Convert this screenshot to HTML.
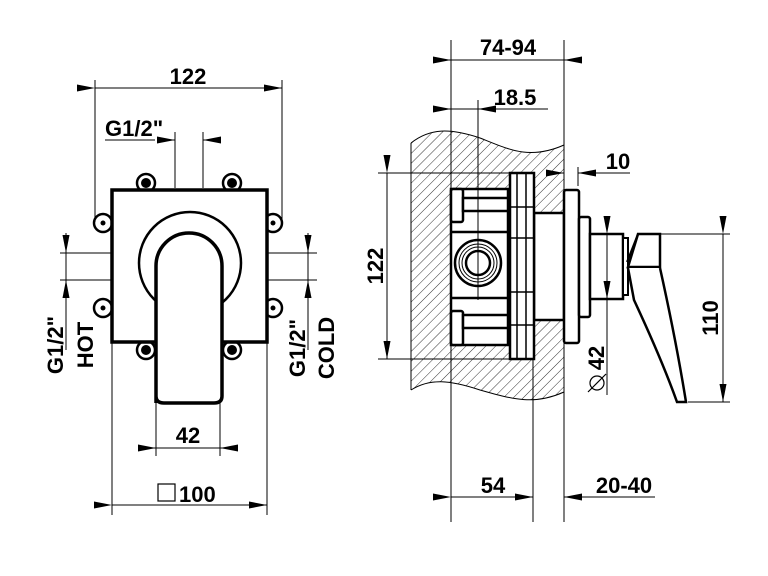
<!DOCTYPE html>
<html><head><meta charset="utf-8"><style>
html,body{margin:0;padding:0;background:#fff}
svg{display:block}
text{font-family:"Liberation Sans",Arial,sans-serif;font-weight:bold;font-size:22px;fill:#000}
</style></head><body>
<svg width="768" height="576" viewBox="0 0 768 576" xmlns="http://www.w3.org/2000/svg">
<defs>
<pattern id="h" patternUnits="userSpaceOnUse" width="7" height="7" patternTransform="rotate(45)">
<line x1="0" y1="0" x2="0" y2="7" stroke="#000" stroke-width="0.8"/>
</pattern>
<marker id="a" viewBox="0 0 18 7" refX="18" refY="3.5" markerWidth="18" markerHeight="7" orient="auto" markerUnits="userSpaceOnUse">
<path d="M0,0 L18,3.5 L0,7 z" fill="#000"/>
</marker>
</defs>
<g stroke="#000" fill="none" stroke-width="1">
<!-- LEFT VIEW -->
<line x1="95" y1="80" x2="95" y2="222"/><line x1="282" y1="80" x2="282" y2="222"/>
<line x1="95" y1="88" x2="282" y2="88" marker-start="url(#a)" marker-end="url(#a)"/>
<line x1="105" y1="140" x2="155" y2="140"/>
<line x1="157" y1="140" x2="175" y2="140" marker-end="url(#a)"/>
<line x1="221" y1="140" x2="203" y2="140" marker-end="url(#a)"/>
<line x1="175" y1="132" x2="175" y2="188"/><line x1="203" y1="132" x2="203" y2="188"/>
<g stroke-width="2.5">
<circle cx="146" cy="183" r="9"/><circle cx="232" cy="183" r="9"/>
<circle cx="146" cy="350" r="9"/><circle cx="232" cy="350" r="9"/>
<circle cx="103" cy="223" r="9"/><circle cx="103" cy="308" r="9"/>
<circle cx="273" cy="223" r="9"/><circle cx="273" cy="308" r="9"/>
</g>
<g fill="#000" stroke="none">
<circle cx="146" cy="183" r="5"/><circle cx="232" cy="183" r="5"/>
<circle cx="146" cy="350" r="5"/><circle cx="232" cy="350" r="5"/>
<circle cx="103" cy="223" r="2.5"/><circle cx="103" cy="308" r="2.5"/>
<circle cx="273" cy="223" r="2.5"/><circle cx="273" cy="308" r="2.5"/>
</g>
<rect x="112" y="190" width="155" height="152" fill="#fff" stroke-width="3.5"/>
<circle cx="190" cy="263" r="51" stroke-width="2.5"/>
<path d="M156,403 V266 A33,33 0 0 1 222,266 V396 Q222,403 214,403 H164 Q156,403 156,396 Z" fill="#fff" stroke-width="3.5"/>
<line x1="60" y1="253" x2="112" y2="253"/><line x1="60" y1="280" x2="112" y2="280"/>
<line x1="66" y1="233" x2="66" y2="253" marker-end="url(#a)"/>
<line x1="66" y1="350" x2="66" y2="280" marker-end="url(#a)"/>
<line x1="66" y1="253" x2="66" y2="280"/>
<line x1="267" y1="253" x2="317" y2="253"/><line x1="267" y1="280" x2="317" y2="280"/>
<line x1="308" y1="233" x2="308" y2="253" marker-end="url(#a)"/>
<line x1="308" y1="350" x2="308" y2="280" marker-end="url(#a)"/>
<line x1="308" y1="253" x2="308" y2="280"/>
<line x1="156" y1="403" x2="156" y2="456"/><line x1="220" y1="403" x2="220" y2="456"/>
<line x1="138" y1="448" x2="156" y2="448" marker-end="url(#a)"/>
<line x1="238" y1="448" x2="220" y2="448" marker-end="url(#a)"/>
<line x1="156" y1="448" x2="220" y2="448"/>
<line x1="112" y1="342" x2="112" y2="515"/><line x1="267" y1="342" x2="267" y2="515"/>
<line x1="112" y1="505" x2="267" y2="505" marker-start="url(#a)" marker-end="url(#a)"/>
<rect x="158" y="484" width="17" height="17" stroke-width="1.2"/>

<!-- RIGHT VIEW -->
<path d="M411,143 C430,128 450,128 480,138 C510,150 530,160 564,145 V392 C535,405 515,400 480,390 C450,380 430,378 411,390 Z" fill="url(#h)" stroke="none"/>
<path d="M411,143 C430,128 450,128 480,138 C510,150 530,160 564,145" />
<path d="M411,390 C430,378 450,380 480,390 C515,400 535,405 564,392"/>
<line x1="411" y1="143" x2="411" y2="390"/>
<line x1="564" y1="145" x2="564" y2="392"/>
<rect x="451" y="189" width="57" height="156" fill="#fff" stroke-width="2.5"/>
<rect x="534" y="213" width="30" height="107" fill="#fff" stroke-width="2.5"/>
<line x1="451" y1="232" x2="508" y2="232" stroke-width="2.5"/>
<line x1="451" y1="298" x2="508" y2="298" stroke-width="2.5"/>
<rect x="451" y="189" width="12" height="33" rx="2" fill="#fff" stroke-width="2.5"/>
<rect x="463" y="198" width="45" height="13" fill="#fff" stroke-width="2.5"/>
<rect x="451" y="311" width="12" height="34" rx="2" fill="#fff" stroke-width="2.5"/>
<rect x="463" y="315" width="45" height="13" fill="#fff" stroke-width="2.5"/>
<circle cx="478" cy="263" r="23" stroke-width="2.5"/>
<circle cx="478" cy="263" r="19"/>
<circle cx="478" cy="263" r="16"/>
<circle cx="478" cy="263" r="12" stroke-width="2.5" fill="#fff"/>
<rect x="510" y="173" width="24" height="186" fill="#fff" stroke-width="2.5"/>
<line x1="517" y1="173" x2="517" y2="359" stroke-width="1.5"/>
<line x1="526" y1="173" x2="526" y2="359" stroke-width="1.5"/>
<line x1="510" y1="207" x2="534" y2="207" stroke-width="1.5"/>
<line x1="510" y1="238" x2="534" y2="238" stroke-width="1.5"/>
<line x1="510" y1="292" x2="534" y2="292" stroke-width="1.5"/>
<line x1="510" y1="325" x2="534" y2="325" stroke-width="1.5"/>
<rect x="564" y="190" width="15" height="153" rx="2" fill="#fff" stroke-width="2.5"/>
<rect x="579" y="217" width="11" height="100" rx="2" fill="#fff" stroke-width="2.5"/>
<rect x="590" y="234" width="33" height="65" fill="#fff" stroke-width="2.5"/>
<rect x="623" y="238" width="5" height="57" fill="#fff" stroke-width="2"/>
<path d="M638,234 H660 V267 H628 Z" fill="#fff" stroke-width="2.5"/>
<line x1="638" y1="234" x2="627" y2="262" stroke-width="2"/>
<path d="M628,268 L634,300 Q662,360 677,402 H686 Q676,340 660,268" fill="#fff" stroke-width="2.5"/>
<line x1="478" y1="100" x2="478" y2="300"/>
<line x1="451" y1="40" x2="451" y2="522"/>
<line x1="564" y1="40" x2="564" y2="145"/>
<line x1="564" y1="392" x2="564" y2="522"/>
<line x1="533" y1="360" x2="533" y2="522"/>
<line x1="433" y1="60" x2="451" y2="60" marker-end="url(#a)"/>
<line x1="582" y1="60" x2="564" y2="60" marker-end="url(#a)"/>
<line x1="451" y1="60" x2="564" y2="60"/>
<line x1="433" y1="109" x2="451" y2="109" marker-end="url(#a)"/>
<line x1="548" y1="109" x2="478" y2="109" marker-end="url(#a)"/>
<line x1="451" y1="109" x2="478" y2="109"/>
<line x1="546" y1="173" x2="564" y2="173" marker-end="url(#a)"/>
<line x1="630" y1="173" x2="578" y2="173" marker-end="url(#a)"/>
<line x1="578" y1="167" x2="578" y2="186"/>
<line x1="378" y1="173" x2="510" y2="173"/>
<line x1="378" y1="359" x2="510" y2="359"/>
<line x1="387" y1="173" x2="387" y2="359" marker-start="url(#a)" marker-end="url(#a)"/>
<line x1="607" y1="234" x2="607" y2="299" marker-start="url(#a)" marker-end="url(#a)"/>
<line x1="607" y1="299" x2="607" y2="395"/>
<line x1="660" y1="234" x2="730" y2="234"/>
<line x1="688" y1="402" x2="730" y2="402"/>
<line x1="723" y1="234" x2="723" y2="402" marker-start="url(#a)" marker-end="url(#a)"/>
<line x1="451" y1="497" x2="533" y2="497" marker-start="url(#a)" marker-end="url(#a)"/>
<line x1="655" y1="497" x2="564" y2="497" marker-end="url(#a)"/>
<circle cx="597" cy="383" r="7" stroke-width="1.2"/>
<line x1="588" y1="392" x2="606" y2="374" stroke-width="1.2"/>
</g>
<text x="188" y="84" text-anchor="middle">122</text>
<text x="105" y="136">G1/2"</text>
<text x="188" y="443" text-anchor="middle">42</text>
<text x="179" y="502">100</text>
<text transform="translate(63,345) rotate(-90)" text-anchor="middle">G1/2"</text>
<text transform="translate(93,345) rotate(-90)" text-anchor="middle">HOT</text>
<text transform="translate(305,348) rotate(-90)" text-anchor="middle">G1/2"</text>
<text transform="translate(334,348) rotate(-90)" text-anchor="middle">COLD</text>
<text x="508" y="55" text-anchor="middle">74-94</text>
<text x="515" y="105" text-anchor="middle">18.5</text>
<text x="618" y="169" text-anchor="middle">10</text>
<text transform="translate(383,266) rotate(-90)" text-anchor="middle">122</text>
<text transform="translate(604,358) rotate(-90)" text-anchor="middle">42</text>
<text transform="translate(718,318) rotate(-90)" text-anchor="middle">110</text>
<text x="493" y="493" text-anchor="middle">54</text>
<text x="624" y="493" text-anchor="middle">20-40</text>
</svg>
</body></html>
